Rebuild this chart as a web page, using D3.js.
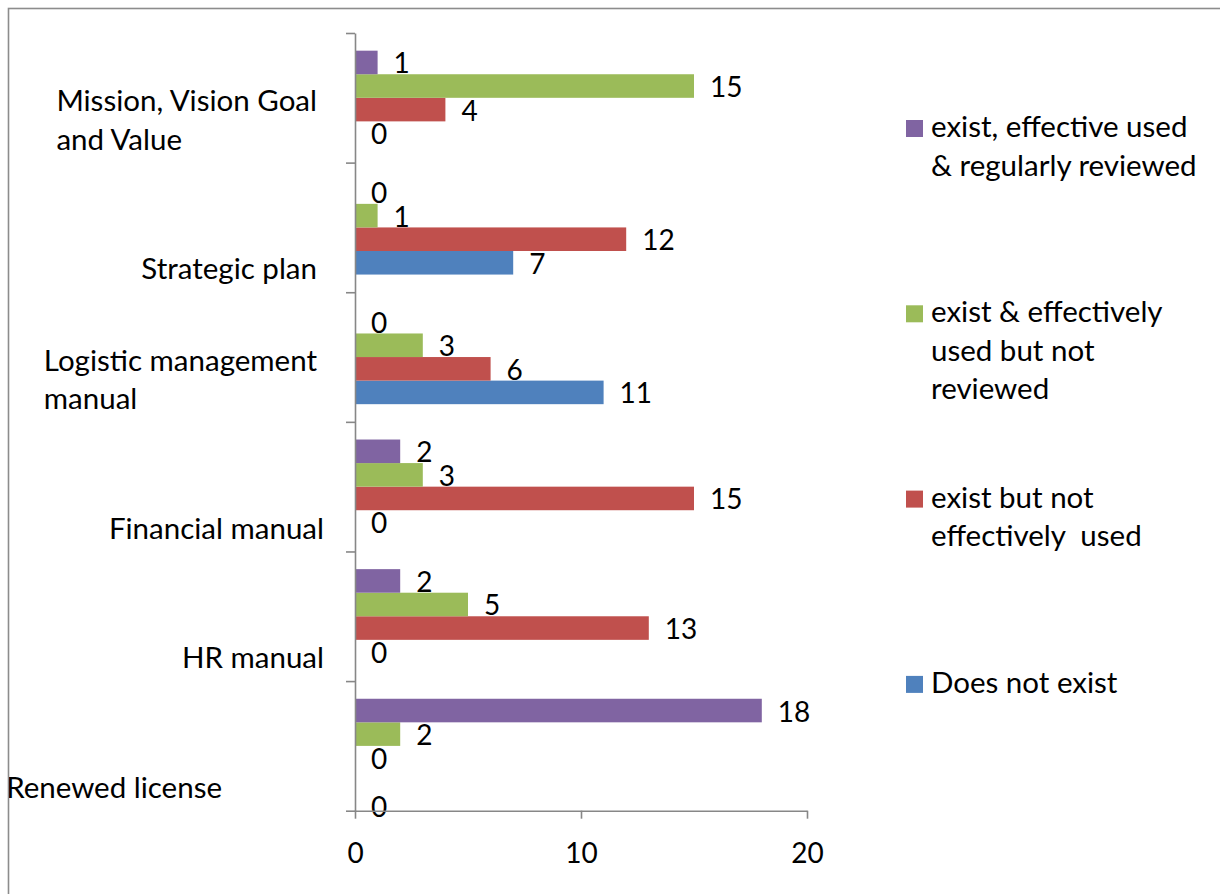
<!DOCTYPE html>
<html>
<head>
<meta charset="utf-8">
<script src="https://cdn.jsdelivr.net/npm/d3@7"></script>
<style>
  html, body { margin: 0; padding: 0; background: #ffffff; }
  svg { display: block; }
  text { font-family: "Lato", "Open Sans", sans-serif; fill: #000; white-space: pre; }
</style>
</head>
<body>
<svg id="chart" width="1220" height="894"></svg>
<script>
// Categories, listed top to bottom as they appear on the vertical axis
const categories = [
  "Mission, Vision Goal and Value",
  "Strategic plan",
  "Logistic management manual",
  "Financial manual",
  "HR manual",
  "Renewed license"
];

// Series values, one entry per category (same order as above)
const doesNotExist          = [0, 7, 11, 0, 0, 0];
const existNotUsed          = [4, 12, 6, 15, 13, 0];
const existUsedNotReviewed  = [15, 1, 3, 3, 5, 2];
const existUsedReviewed     = [1, 0, 0, 2, 2, 18];

// Series names as shown in the legend
const seriesNames = [
  "Does not exist",
  "exist but not effectively  used",
  "exist & effectively used but not reviewed",
  "exist, effective used & regularly reviewed"
];

// Value axis tick labels
const xTicks = [0, 10, 20];

// ---- presentation settings ----
const colors = ["#4F81BD", "#C0504D", "#9BBB59", "#8064A2"];
const seriesValues = [doesNotExist, existNotUsed, existUsedNotReviewed, existUsedReviewed];

const series = seriesNames.map((name, i) => ({
  key: "s" + i, name, color: colors[i], values: seriesValues[i]
}));

// line breaks used when drawing the wrapped labels
const categoryLines = {
  "Mission, Vision Goal and Value": ["Mission, Vision Goal", "and Value"],
  "Strategic plan": ["Strategic plan"],
  "Logistic management manual": ["Logistic management", "manual"],
  "Financial manual": ["Financial manual"],
  "HR manual": ["HR manual"],
  "Renewed license": ["Renewed license"]
};
const categoryLabelRight = {
  "Mission, Vision Goal and Value": 317,
  "Strategic plan": 317,
  "Logistic management manual": 317,
  "Financial manual": 324,
  "HR manual": 324,
  "Renewed license": 222
};
const legendLines = {
  "exist, effective used & regularly reviewed": ["exist, effective used", "& regularly reviewed"],
  "exist & effectively used but not reviewed": ["exist & effectively", "used but not", "reviewed"],
  "exist but not effectively  used": ["exist but not", "effectively  used"],
  "Does not exist": ["Does not exist"]
};
// extra downward shift for a value label that would collide with its neighbour
const labelNudge = { "Renewed license|s0": 25 };

const textSize = 29.5;
const numberSize = 28;
const axisColor = "#878787";

const svg = d3.select("#chart");

// outer chart frame (only top and left edges fall inside the view)
svg.append("defs").append("clipPath").attr("id", "frameClip")
  .append("rect").attr("x", 9).attr("y", 9).attr("width", 1300).attr("height", 1000);

svg.append("rect")
  .attr("x", 8.5).attr("y", 8.5)
  .attr("width", 1300).attr("height", 1000)
  .attr("fill", "none")
  .attr("stroke", "#8c8c8c")
  .attr("stroke-width", 1.6);

const g = svg.append("g").attr("clip-path", "url(#frameClip)");

// ---- scales ----
const plot = { left: 355, right: 807, top: 33, bottom: 810.7 };

const x = d3.scaleLinear().domain([0, 20]).range([plot.left, plot.right]);

const y = d3.scaleBand()
  .domain(categories)
  .range([plot.top, plot.bottom])
  .paddingInner(0).paddingOuter(0);

// within a category the last series sits on top
const ySeries = d3.scaleBand()
  .domain(series.map(s => s.key).reverse())
  .range([0, y.bandwidth()])
  .paddingInner(0).paddingOuter(0.75);

// ---- bars ----
const groups = g.append("g").selectAll("g")
  .data(categories)
  .join("g")
  .attr("transform", c => `translate(0,${y(c)})`);

const barData = (c, ci) => series.map(s => ({ cat: c, key: s.key, color: s.color, value: s.values[ci] }));

groups.selectAll("rect")
  .data(barData)
  .join("rect")
  .attr("x", x(0))
  .attr("y", d => ySeries(d.key))
  .attr("width", d => x(d.value) - x(0))
  .attr("height", ySeries.bandwidth())
  .attr("fill", d => d.color);

// value labels
groups.selectAll("text.val")
  .data(barData)
  .join("text")
  .attr("class", "val")
  .attr("x", d => x(d.value) + 16)
  .attr("y", d => ySeries(d.key) + ySeries.bandwidth() / 2 + 11 + (labelNudge[d.cat + "|" + d.key] || 0))
  .attr("font-size", numberSize)
  .text(d => d.value);

// ---- axes ----
const boundary = d3.scaleLinear().domain([0, categories.length]).range([plot.bottom, plot.top]);

const yAxis = g.append("g")
  .attr("transform", `translate(${plot.left},0)`)
  .call(d3.axisLeft(boundary)
    .tickValues(d3.range(categories.length + 1))
    .tickSize(9).tickSizeOuter(0)
    .tickFormat(""));

const xAxis = g.append("g")
  .attr("transform", `translate(0,${plot.bottom})`)
  .call(d3.axisBottom(x)
    .tickValues(xTicks)
    .tickSize(8).tickSizeOuter(0)
    .tickPadding(24)
    .tickFormat(d3.format("d")));

[yAxis, xAxis].forEach(a => {
  a.selectAll("path.domain").attr("stroke", axisColor).attr("stroke-width", 1.6);
  a.selectAll(".tick line").attr("stroke", axisColor).attr("stroke-width", 1.6);
});
xAxis.selectAll(".tick text")
  .attr("font-size", numberSize)
  .attr("font-family", null)
  .attr("fill", "#000");

// ---- category labels (block right-aligned, lines left-aligned) ----
const lineStep = 38.5;
categories.forEach(c => {
  const lines = categoryLines[c];
  const lastBaseline = y(c) + y.bandwidth() / 2 + 52;
  const t = g.append("text").attr("font-size", textSize);
  lines.forEach((ln, i) => {
    t.append("tspan")
      .attr("y", lastBaseline - (lines.length - 1 - i) * lineStep)
      .text(ln);
  });
  const widths = t.selectAll("tspan").nodes().map(n => n.getComputedTextLength());
  const left = categoryLabelRight[c] - d3.max(widths);
  t.selectAll("tspan").attr("x", left);
});

// ---- legend ----
const legendOrder = series.slice().reverse();
const legend = g.append("g");
legendOrder.forEach((s, i) => {
  const baseline = 137 + i * 185.3;
  legend.append("rect")
    .attr("x", 906).attr("y", baseline - 17)
    .attr("width", 17).attr("height", 17)
    .attr("fill", s.color);
  const t = legend.append("text").attr("font-size", textSize);
  legendLines[s.name].forEach((ln, j) => {
    t.append("tspan").attr("x", 931).attr("y", baseline + j * lineStep).text(ln);
  });
});
</script>
</body>
</html>
